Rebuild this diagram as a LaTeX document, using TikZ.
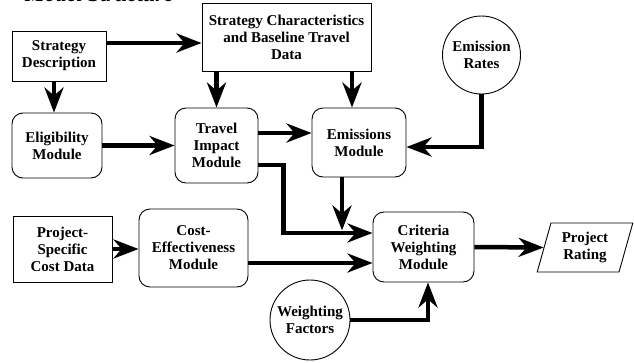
\documentclass[tikz,border=0pt]{standalone}
\usepackage{fontspec}
\setmainfont{Liberation Serif}
\usetikzlibrary{arrows.meta,shapes.geometric}
\begin{document}
\begin{tikzpicture}[x=1pt,y=-1pt,
  every node/.style={font=\bfseries\fontsize{15}{17}\selectfont, align=center, inner sep=0pt},
  databox/.style={draw, line width=0.9pt, rectangle},
  modbox/.style={draw, line width=0.9pt, rectangle, rounded corners=11pt},
  inbubble/.style={draw, line width=0.9pt, circle},
  outshape/.style={draw, line width=0.9pt, trapezium, trapezium left angle=73,
    trapezium right angle=107, trapezium stretches=true},
  flow/.style={line width=4.5pt, -{Stealth[length=25pt,width=19pt,inset=8pt]}}]
\useasboundingbox (0,0) rectangle (634,362);

% heading, partly above the top edge
\node[anchor=base west, font=\bfseries\itshape\fontsize{22}{24}\selectfont] (title) at (25,1.5) {Model Structure};

% data sources
\node[databox, minimum width=94pt, minimum height=50pt] (sd) at (59,56) {Strategy\\Description};
\node[databox, minimum width=169pt, minimum height=68pt] (sc) at (286.5,37) {Strategy Characteristics\\and Baseline Travel\\Data};
\node[inbubble, minimum size=78pt] (er) at (481.5,55) {Emission\\Rates};
\node[databox, minimum width=99pt, minimum height=66pt] (pc) at (62.5,249) {Project-\\Specific\\Cost Data};
\node[inbubble, minimum size=80pt] (wf) at (310,320) {Weighting\\Factors};

% modules
\node[modbox, minimum width=90pt, minimum height=65pt] (el) at (57,145.5) {Eligibility\\Module};
\node[modbox, minimum width=83pt, minimum height=75pt] (ti) at (216.5,145.5) {Travel\\Impact\\Module};
\node[modbox, minimum width=94pt, minimum height=69pt] (em) at (359,142.5) {Emissions\\Module};
\node[modbox, minimum width=109pt, minimum height=78pt] (ce) at (193.5,248) {Cost-\\Effectiveness\\Module};
\node[modbox, minimum width=101pt, minimum height=70pt] (cw) at (423.5,247) {Criteria\\Weighting\\Module};

% result
\node[outshape, minimum width=96pt, minimum height=49pt] (pr) at (585,247.5) {Project\\Rating};

% flows
\draw[flow] ([yshift=13pt]sd.east) -- ([yshift=-6pt]sc.west);
\draw[flow] ([xshift=-5pt]sd.south) -- ([xshift=-5pt]sd.south |- el.north);
\draw[flow] (ti.north |- sc.south) -- (ti.north);
\draw[flow] ([xshift=-7pt]em.north |- sc.south) -- ([xshift=-7pt]em.north);
\draw[flow] (el.east) -- (el.east -| ti.west);
\draw[flow] ([yshift=12.5pt]ti.east) -- ([yshift=12.5pt]ti.east -| em.west);
\draw[flow] ([yshift=-19.5pt]ti.east) -- ++(25,0) |- ([yshift=14pt]cw.west);
\draw[flow] ([xshift=-17pt]em.south) -- ++(0,53);
\draw[flow] (er.south) |- ([yshift=-4.5pt]em.east);
\draw[flow] (pc.east) -- (pc.east -| ce.west);
\draw[flow] ([yshift=-15pt]ce.east) -- ([yshift=-15pt]ce.east -| cw.west);
\draw[flow] (cw.east) -- (pr.west);
\draw[flow] (wf.east) -| ([xshift=4.5pt]cw.south);
\end{tikzpicture}
\end{document}
